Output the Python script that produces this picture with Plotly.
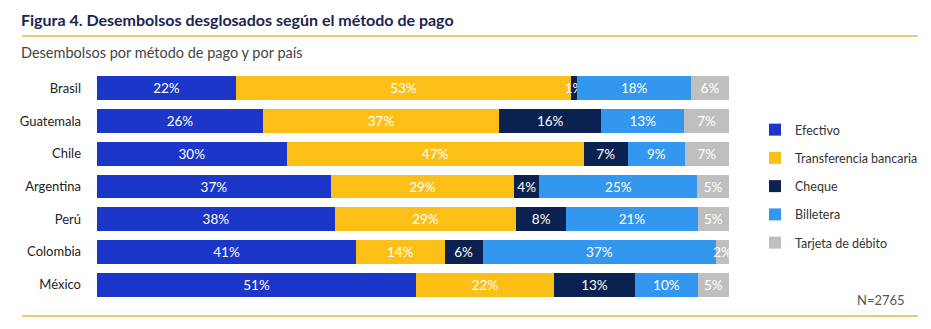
import plotly.graph_objects as go

countries = ["Brasil", "Guatemala", "Chile", "Argentina", "Perú", "Colombia", "México"]
methods = ["Efectivo", "Transferencia bancaria", "Cheque", "Billetera", "Tarjeta de débito"]
efectivo = [22, 26, 30, 37, 38, 41, 51]
transferencia = [53, 37, 47, 29, 29, 14, 22]
cheque = [1, 16, 7, 4, 8, 6, 13]
billetera = [18, 13, 9, 25, 21, 37, 10]
tarjeta = [6, 7, 7, 5, 5, 2, 5]
series = [efectivo, transferencia, cheque, billetera, tarjeta]
colors = ["#1b36c8", "#fcbf18", "#0b2150", "#3497ef", "#bfbfbf"]

W, H = 931, 329
L, R, T, B = 97, 202, 72, 28
pw, ph = W - L - R, H - T - B

def px(x):
    return (x - L) / pw

def py(y):
    return (H - B - y) / ph

fig = go.Figure()
for name, vals, col in zip(methods, series, colors):
    fig.add_trace(go.Bar(
        y=countries, x=vals, name=name, orientation="h",
        marker=dict(color=col, line=dict(width=0)),
        text=[f"{v}%" for v in vals], textposition="inside",
        insidetextanchor="middle", textangle=0,
        textfont=dict(color="white", size=13.5, family="Lato"),
        legendgroup=name,
    ))

fig.update_layout(
    width=W, height=H, barmode="stack", barnorm="percent", bargap=0.27,
    margin=dict(l=L, r=R, t=T, b=B, autoexpand=False),
    paper_bgcolor="white", plot_bgcolor="white",
    font=dict(family="Lato", color="#333333"),
    uniformtext=dict(minsize=13.5, mode="show"),
    showlegend=True,
    legend=dict(x=px(755), y=py(115), xanchor="left", yanchor="top",
                traceorder="grouped", tracegroupgap=9,
                font=dict(size=12.5, color="#333333", family="Lato"),
                itemwidth=30, bgcolor="rgba(0,0,0,0)"),
    xaxis=dict(range=[0, 100], visible=False, fixedrange=True),
    yaxis=dict(autorange="reversed", showline=False, showgrid=False, ticks="",
               ticklabelstandoff=15, tickfont=dict(size=13, color="#222222", family="Lato")),
)

fig.add_annotation(xref="paper", yref="paper", x=px(19), y=py(19), xanchor="left", yanchor="middle",
                   text="<b>Figura 4. Desembolsos desglosados según el método de pago</b>", showarrow=False,
                   font=dict(size=16, color="#1b2552", family="Lato"))
fig.add_annotation(xref="paper", yref="paper", x=px(19), y=py(53), xanchor="left", yanchor="middle",
                   text="Desembolsos por método de pago y por país", showarrow=False,
                   font=dict(size=14.5, color="#444444", family="Lato"))
fig.add_annotation(xref="paper", yref="paper", x=px(907), y=py(300), xanchor="right", yanchor="middle",
                   text="N=2765", showarrow=False,
                   font=dict(size=13, color="#555555", family="Lato"))
for yy in (36, 316):
    fig.add_shape(type="line", xref="paper", yref="paper", x0=px(22), x1=px(918), y0=py(yy), y1=py(yy),
                  line=dict(color="#ecc96a", width=2))

fig.write_html("out.html")
